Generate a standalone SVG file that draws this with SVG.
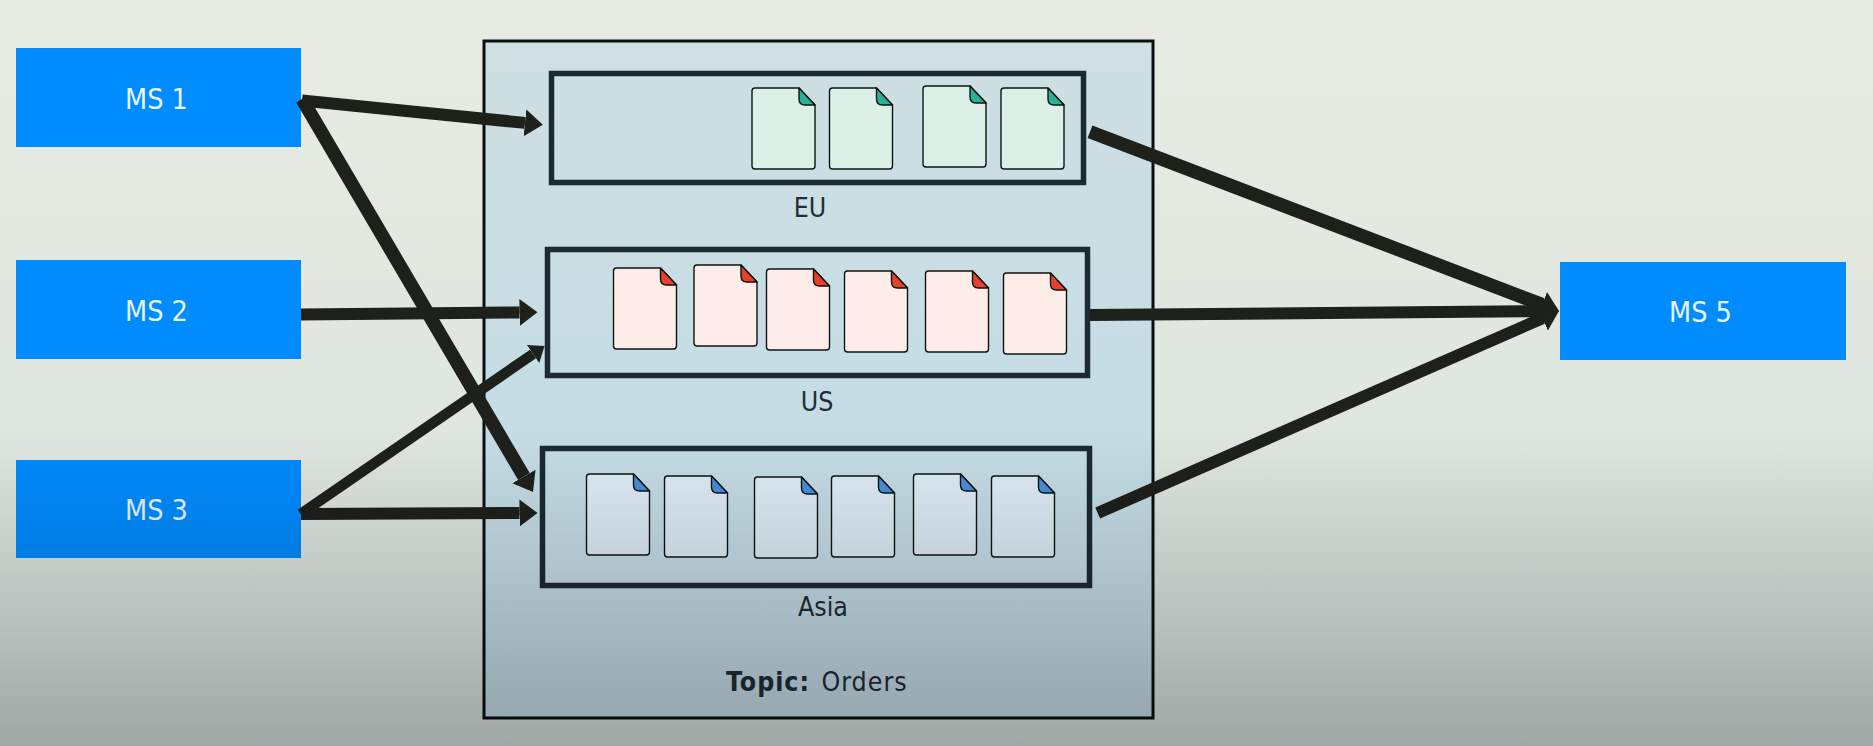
<svg xmlns="http://www.w3.org/2000/svg" width="1873" height="746" viewBox="0 0 1873 746">
<style>
.ms rect{fill:#008cff}
.ms text{fill:#e9f5ff;font:28.5px "DejaVu Sans",sans-serif;font-stretch:condensed}
.box{fill:none;stroke:#1b2a33;stroke-width:5.5}
.lbl{fill:#1f2d38;font:26.5px "DejaVu Sans",sans-serif;font-stretch:condensed}
.ls{letter-spacing:1px}
.bold{font-weight:700}
.b,.f{stroke:#0c1412;stroke-width:1.4;stroke-linejoin:round}
.eu .b{fill:#dcf0e8}.eu .f{fill:#2bb198}
.us .b{fill:#fdece7}.us .f{fill:#e8402a}
.as .b{fill:#dfedf7}.as .f{fill:#4590dd}
#connectors line{stroke:#1e201b;fill:none}
.w{stroke-width:12;marker-end:url(#head)}
.t{stroke-width:13.5;marker-end:url(#head)}
.n{stroke-width:10.5;marker-end:url(#headS)}
</style>
<defs>
<linearGradient id="bg" gradientUnits="userSpaceOnUse" x1="0" y1="0" x2="0" y2="746"><stop offset="0" stop-color="#e8ebe2"/><stop offset=".58" stop-color="#dfe6e0"/><stop offset="1" stop-color="#dee8e6"/></linearGradient>
<linearGradient id="panel" gradientUnits="userSpaceOnUse" x1="0" y1="40" x2="0" y2="718"><stop offset="0" stop-color="#cfdfe2"/><stop offset=".58" stop-color="#c5dce5"/><stop offset="1" stop-color="#c9e1ec"/></linearGradient>
<linearGradient id="shade" gradientUnits="userSpaceOnUse" x1="0" y1="430" x2="0" y2="746"><stop offset="0" stop-color="#000" stop-opacity="0"/><stop offset="1" stop-color="#000" stop-opacity=".28"/></linearGradient>
<marker id="head" markerUnits="userSpaceOnUse" markerWidth="20" markerHeight="30" refX="0" refY="15" orient="auto"><path d="M0,1.5 L18,15 L0,28.5 Z" fill="#1e201b"/></marker>
<marker id="headS" markerUnits="userSpaceOnUse" markerWidth="16" markerHeight="26" refX="0" refY="13" orient="auto"><path d="M0,2 L14,13 L0,24 Z" fill="#1e201b"/></marker>
<path id="db" d="M3,0H47L63,17V78Q63,81 60,81H3Q0,81 0,78V3Q0,0 3,0Z"/>
<path id="df" d="M47,0V11Q47,17 53,17H63Z"/>
</defs>
<rect width="1873" height="746" fill="url(#bg)"/>
<g id="topic">
<rect x="484" y="41" width="669" height="677" fill="url(#panel)" stroke="#0a0f12" stroke-width="3"/>
<text class="lbl ls bold" x="726" y="691">Topic:</text>
<text class="lbl ls" x="821.5" y="691">Orders</text>
</g>
<g id="ms1" class="ms"><rect x="16" y="48" width="285" height="99"/><text x="125" y="108.5">MS 1</text></g>
<g id="ms2" class="ms"><rect x="16" y="260" width="285" height="99"/><text x="125" y="321">MS 2</text></g>
<g id="ms3" class="ms"><rect x="16" y="460" width="285" height="98"/><text x="125" y="520">MS 3</text></g>
<g id="ms5" class="ms"><rect x="1560" y="262" width="286" height="98"/><text x="1669" y="322">MS 5</text></g>
<g id="partition-eu">
<rect class="box" x="551.5" y="73.5" width="532" height="109"/>
<text class="lbl" x="810" y="216.7" text-anchor="middle">EU</text>
<g class="eu" transform="translate(752,88)"><use href="#db" class="b"/><use href="#df" class="f"/></g>
<g class="eu" transform="translate(829.5,88)"><use href="#db" class="b"/><use href="#df" class="f"/></g>
<g class="eu" transform="translate(923,86)"><use href="#db" class="b"/><use href="#df" class="f"/></g>
<g class="eu" transform="translate(1001,88)"><use href="#db" class="b"/><use href="#df" class="f"/></g>
</g>
<g id="partition-us">
<rect class="box" x="547.5" y="249.5" width="540" height="126"/>
<text class="lbl" x="817" y="410.7" text-anchor="middle">US</text>
<g class="us" transform="translate(613.5,268)"><use href="#db" class="b"/><use href="#df" class="f"/></g>
<g class="us" transform="translate(694,265)"><use href="#db" class="b"/><use href="#df" class="f"/></g>
<g class="us" transform="translate(766.5,269)"><use href="#db" class="b"/><use href="#df" class="f"/></g>
<g class="us" transform="translate(844.5,271)"><use href="#db" class="b"/><use href="#df" class="f"/></g>
<g class="us" transform="translate(925.5,271)"><use href="#db" class="b"/><use href="#df" class="f"/></g>
<g class="us" transform="translate(1003.5,273)"><use href="#db" class="b"/><use href="#df" class="f"/></g>
</g>
<g id="partition-asia">
<rect class="box" x="542.5" y="448.5" width="547" height="137"/>
<text class="lbl" x="823" y="616" text-anchor="middle">Asia</text>
<g class="as" transform="translate(586.5,474)"><use href="#db" class="b"/><use href="#df" class="f"/></g>
<g class="as" transform="translate(664.5,476)"><use href="#db" class="b"/><use href="#df" class="f"/></g>
<g class="as" transform="translate(754.5,477)"><use href="#db" class="b"/><use href="#df" class="f"/></g>
<g class="as" transform="translate(831.5,476)"><use href="#db" class="b"/><use href="#df" class="f"/></g>
<g class="as" transform="translate(913.5,474)"><use href="#db" class="b"/><use href="#df" class="f"/></g>
<g class="as" transform="translate(991.5,476)"><use href="#db" class="b"/><use href="#df" class="f"/></g>
</g>
<g id="connectors">
<line class="w" x1="302" y1="100.5" x2="525" y2="122.9"/>
<line class="t" x1="302" y1="99" x2="523.9" y2="476.5"/>
<line class="w" x1="301" y1="314.4" x2="519.5" y2="312.5"/>
<line class="n" x1="300.6" y1="514" x2="533" y2="354"/>
<line class="w" x1="301" y1="514" x2="519.5" y2="513"/>
<line class="t" x1="1090" y1="131.7" x2="1542.2" y2="304.6"/>
<line class="w" x1="1090" y1="315" x2="1541" y2="311.2"/>
<line class="w" x1="1097.7" y1="513" x2="1542.5" y2="318.2"/>
</g>
<rect width="1873" height="746" fill="url(#shade)" pointer-events="none"/>
</svg>
